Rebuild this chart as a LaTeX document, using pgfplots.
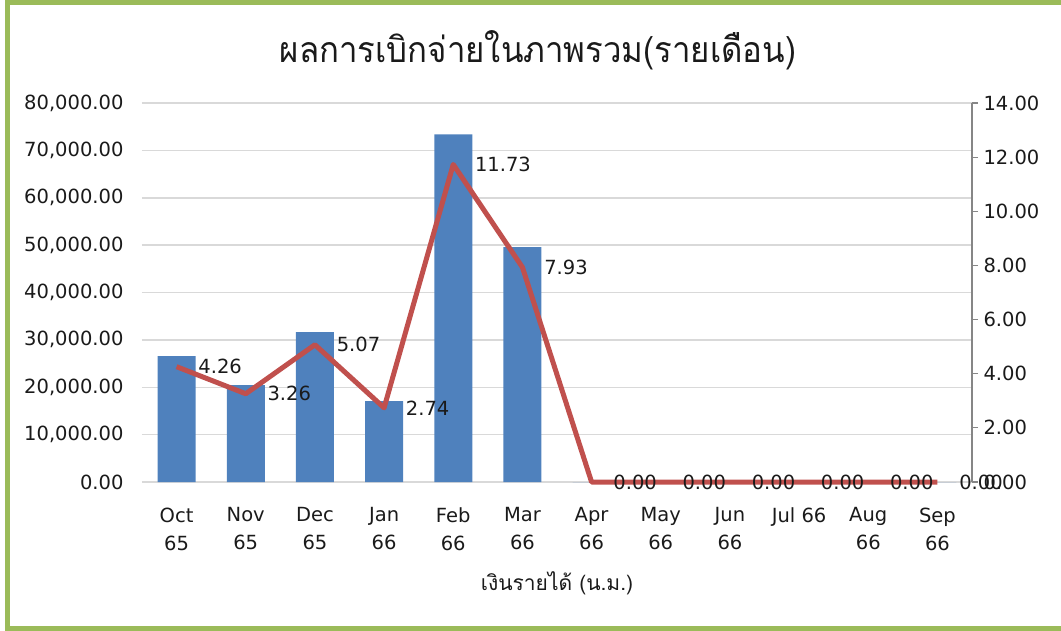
\documentclass[border=0pt]{standalone}
\usepackage{fontspec}
\setmainfont{DejaVu Sans}
\newfontfamily\thaifont[Script=Thai]{Loma}
\usepackage{pgfplots}
\pgfplotsset{compat=1.18}
\definecolor{barblue}{HTML}{4F81BD}
\definecolor{linered}{HTML}{C0504D}
\definecolor{bordergreen}{HTML}{9BBB59}
\definecolor{gridgray}{HTML}{D9D9D9}
\definecolor{axgray}{HTML}{868686}
\definecolor{txt}{HTML}{1A1A1A}
\pgfplotstableread{
x amount pct
0 26580 4.26
1 20460 3.26
2 31650 5.07
3 17090 2.74
4 73400 11.73
5 49580 7.93
6 0 0
7 0 0
8 0 0
9 0 0
10 0 0
11 0 0
}\datatable
\begin{document}
\begin{tikzpicture}[x=1pt,y=1pt]
\path[use as bounding box] (0,0) rectangle (1061,630);
\begin{scope}
\clip (0,0) rectangle (1061,630);
\draw[bordergreen, line width=5pt] (7,1.5) rectangle (1075,627.5);
\end{scope}
\node[font=\thaifont\fontsize{33}{40}\selectfont, text=txt, yscale=1.08] at (538,580) {ผลการเบิกจ่ายในภาพรวม(รายเดือน)};
\begin{axis}[
  at={(142pt,148pt)}, anchor=south west, scale only axis,
  width=830pt, height=379pt,
  xmin=-0.5, xmax=11.5, ymin=0, ymax=80000,
  ytick={0,10000,...,80000},
  xtick=data,
  xticklabels={{Oct\\65},{Nov\\65},{Dec\\65},{Jan\\66},{Feb\\66},{Mar\\66},{Apr\\66},{May\\66},{Jun\\66},{Jul 66},{Aug\\66},{Sep\\66}},
  xticklabel style={align=center, font=\fontsize{19.5}{28}\selectfont, text=txt, yshift=-22pt, anchor=north},
  yticklabel style={font=\fontsize{19.5}{24}\selectfont, text=txt, xshift=-15pt},
  /pgf/number format/assume math mode=true,
  y tick label style={/pgf/number format/.cd, fixed, fixed zerofill, precision=2, 1000 sep={,}},
  scaled y ticks=false,
  axis y line*=left, axis x line*=bottom,
  axis line style={draw=none},
  x axis line style={draw=gridgray, line width=1.5pt},
  major tick length=0pt,
  ymajorgrids, grid style={gridgray, line width=1.5pt},
  xlabel={\thaifont เงินรายได้ (น.ม.)},
  xlabel style={font=\thaifont\fontsize{21}{24}\selectfont, text=txt, yshift=-14pt},
  ybar, bar width=38pt,
  clip=false,
]
\addplot[fill=barblue, draw=none] table[x=x, y=amount] {\datatable};
\end{axis}
\begin{axis}[
  at={(142pt,148pt)}, anchor=south west, scale only axis,
  width=830pt, height=379pt,
  xmin=-0.5, xmax=11.5, ymin=0, ymax=14,
  ytick={0,2,...,14},
  axis y line*=right, axis x line=none,
  y axis line style={draw=axgray, line width=1.2pt},
  ytick style={draw=axgray, line width=1.2pt},
  tick align=outside, major tick length=6pt,
  yticklabel style={font=\fontsize{19.5}{24}\selectfont, text=txt, xshift=2pt},
  /pgf/number format/assume math mode=true,
  y tick label style={/pgf/number format/.cd, fixed, fixed zerofill, precision=2},
  clip=false,
]
\addplot[linered, line width=5pt, line join=round,
  nodes near coords,
  nodes near coords style={anchor=west, xshift=16pt, font=\fontsize{19.5}{24}\selectfont, text=txt,
    /pgf/number format/.cd, fixed, fixed zerofill, precision=2, assume math mode=true},
] table[x=x, y=pct] {\datatable};
\end{axis}
\end{tikzpicture}
\end{document}
